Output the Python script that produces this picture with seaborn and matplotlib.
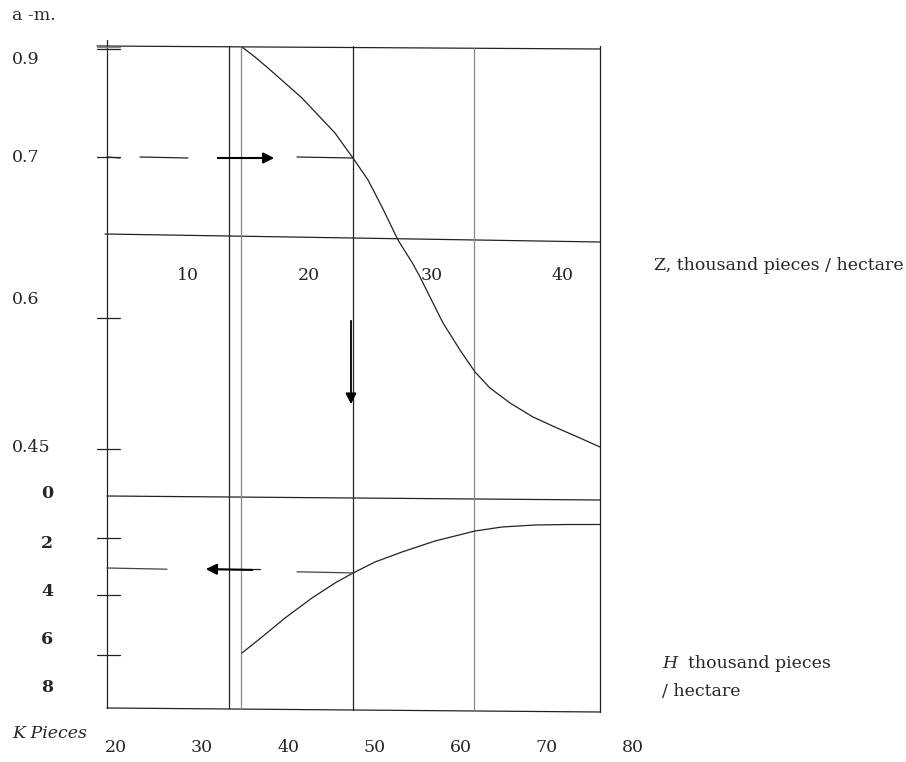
import numpy as np
import pandas as pd
import seaborn as sns
from matplotlib import pyplot as plt

# nomogram drawn in page coordinates (pixels, y grows downward)
# upper curve: a-m against Z
upper_x = [242, 255, 268, 285, 302, 318, 335, 345, 353, 368, 382, 398, 413, 420, 430,
           443, 460, 475, 490, 510, 533, 557, 580, 600]
upper_y = [47, 57, 68, 83, 98, 115, 133, 147, 158, 180, 207, 240, 264, 277, 297,
           323, 350, 372, 388, 403, 417, 428, 438, 447]
# lower curve: H against K
lower_x = [242, 262, 285, 312, 335, 353, 375, 402, 435, 475, 502, 535, 568, 600]
lower_y = [653, 637, 618, 598, 583, 573, 562, 552, 541, 531, 527, 525, 524.5, 524.5]

# frame lines (x0, y0, x1, y1) and their grey level
frame_h = [(97, 46, 600, 49), (105, 234, 600, 242), (107, 496, 600, 500), (107, 708, 600, 712)]
frame_v = [(107, 40, 107, 708), (229, 46, 229, 708), (241, 46, 241, 708),
           (353, 46, 353, 710), (474, 48, 474, 710), (600, 46, 600, 712)]
frame_v_col = ['#222222', '#222222', '#888888', '#222222', '#888888', '#222222']

left_ticks_y = [49, 157, 318, 449, 538, 595, 655]

# dashed guide segments (x0, x1) at each level
guide_top = [(107, 120), (140, 188), (297, 353)]
guide_bottom = [(107, 167), (297, 353)]

a_labels = ['0.9', '0.7', '0.6', '0.45']
a_label_y = [60, 157, 300, 448]
h_labels = ['0', '2', '4', '6', '8']
h_label_y = [494, 543, 591, 640, 688]
z_labels = ['10', '20', '30', '40']
z_label_x = [188, 309, 432, 562]
k_labels = ['20', '30', '40', '50', '60', '70', '80']
k_label_x = [116, 202, 289, 375, 461, 547, 633]

sns.set_style('white')
plt.rcParams['font.family'] = ['DejaVu Serif']

fig = plt.figure(figsize=(9.06, 7.62), dpi=100)
ax = fig.add_axes([0, 0, 1, 1])
ax.set_xlim(0, 906)
ax.set_ylim(762, 0)
ax.axis('off')

for x0, y0, x1, y1 in frame_h:
    ax.plot([x0, x1], [y0, y1], color='#222222', lw=0.9)
for (x0, y0, x1, y1), c in zip(frame_v, frame_v_col):
    ax.plot([x0, x1], [y0, y1], color=c, lw=0.9)
ax.plot([97, 120], [47, 47], color='#888888', lw=0.9)
for y in left_ticks_y:
    ax.plot([97, 120], [y, y], color='#222222', lw=0.9)

curves = pd.concat([
    pd.DataFrame({'x': upper_x, 'y': upper_y, 'curve': 'a-m'}),
    pd.DataFrame({'x': lower_x, 'y': lower_y, 'curve': 'H'}),
])
sns.lineplot(data=curves, x='x', y='y', units='curve', estimator=None, sort=False,
             color='#222222', lw=0.9, ax=ax)

# dashed guide lines with arrows
for x0, x1 in guide_top:
    ax.plot([x0, x1], [157, 158], color='#222222', lw=0.9)
ax.annotate('', xy=(277, 158), xytext=(215, 158),
            arrowprops=dict(arrowstyle='-|>', color='black', lw=1.5, mutation_scale=16))
for x0, x1 in guide_bottom:
    ax.plot([x0, x1], [568 + (x0 - 107) * 0.02, 568 + (x1 - 107) * 0.02], color='#444444', lw=0.9)
ax.plot([215, 260], [569, 569], color='#222222', lw=0.9)
ax.annotate('', xy=(203, 569), xytext=(255, 570),
            arrowprops=dict(arrowstyle='-|>', color='black', lw=1.5, mutation_scale=16))
ax.annotate('', xy=(351, 407), xytext=(351, 318),
            arrowprops=dict(arrowstyle='-|>', color='black', lw=1.3, mutation_scale=16))

fs = 12.5
ax.text(12, 15, 'a -m.', fontsize=fs, va='center')
for t, y in zip(a_labels, a_label_y):
    ax.text(12, y, t, fontsize=fs, va='center')
for t, y in zip(h_labels, h_label_y):
    ax.text(47, y, t, fontsize=fs, va='center', ha='center', fontweight='bold')
for t, x in zip(z_labels, z_label_x):
    ax.text(x, 275, t, fontsize=fs, va='center', ha='center')
for t, x in zip(k_labels, k_label_x):
    ax.text(x, 748, t, fontsize=fs, va='center', ha='center')
ax.text(12, 734, 'K Pieces', fontsize=fs, va='center', style='italic')
ax.text(654, 266, 'Z, thousand pieces / hectare', fontsize=fs, va='center')
ax.text(662, 663, 'H', fontsize=fs, va='center', style='italic')
ax.text(688, 663, 'thousand pieces', fontsize=fs, va='center')
ax.text(662, 691, '/ hectare', fontsize=fs, va='center')

fig.savefig('out.png', dpi=100)
